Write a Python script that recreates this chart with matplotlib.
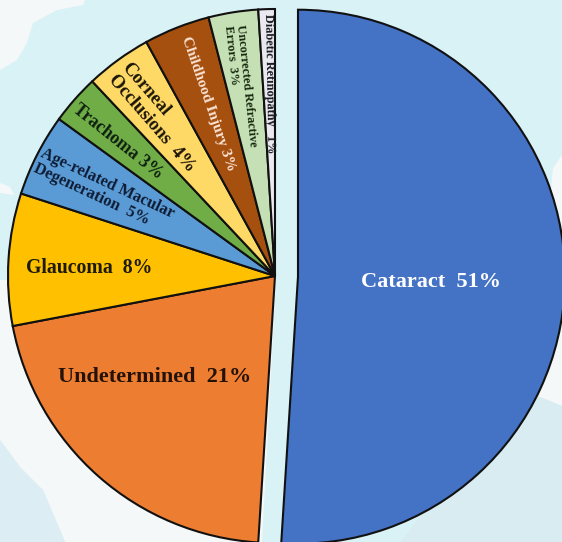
import matplotlib
matplotlib.use("Agg")
import matplotlib.pyplot as plt
from matplotlib.patches import Polygon

categories = ["Cataract", "Undetermined", "Glaucoma", "Age-related Macular Degeneration", "Trachoma",
              "Corneal Occlusions", "Childhood Injury", "Uncorrected Refractive Errors", "Diabetic Retinopathy"]
values = [51, 21, 8, 5, 3, 4, 4, 3, 1]
labels = ["Cataract  51%", "Undetermined  21%", "Glaucoma  8%", "Age-related Macular\nDegeneration  5%",
          "Trachoma 3%", "Corneal\nOcclusions  4%", "Childhood Injury 3%", "Uncorrected Refractive\nErrors  3%",
          "Diabetic Retinopathy   1%"]

colors = ["#4472C4", "#ED7D31", "#FFC000", "#5B9BD5", "#70AD47", "#FFD966", "#A5500F", "#C5E0B4", "#E9E9EF"]
label_xy = [(361, 282), (58, 377), (26, 268), (38, 160), (75, 107), (118, 71), (185, 37), (234, 25), (268, 14)]
label_rot = [0, 0, 0, -25, -38.5, -49, -71, -84, -89]
label_size = [16, 16, 14.2, 11.8, 13, 13.4, 11, 8.8, 8.8]
label_col = ["white", "#241208", "#1c1a08", "#0d1c33", "#0e1f10", "#1c1608", "#FBE3D4", "#16280f", "#1a1a22"]

fig = plt.figure(figsize=(5.62, 5.42), dpi=100, facecolor="#D9F2F6")
ax = fig.add_axes([0, 0, 1, 1])

land = [
    [(0, 0), (85, 0), (83, 5), (57, 10), (33, 23), (27, 43), (17, 60), (0, 70)],
    [(0, 183), (10, 187), (14, 195), (0, 193)],
    [(0, 280), (0, 440), (20, 467), (43, 490), (63, 537), (65, 542), (262, 542), (276, 280)],
    [(562, 155), (553, 168), (550, 200), (500, 300), (520, 395), (540, 397), (562, 406)],
]
for pts in land:
    ax.add_patch(Polygon(pts, closed=True, facecolor="#F5F8F9", edgecolor="none", zorder=0))
ax.add_patch(Polygon([(0, 440), (20, 467), (43, 490), (63, 537), (65, 542), (0, 542)], closed=True,
                     facecolor="#DCEEF3", edgecolor="none", zorder=0))
ax.add_patch(Polygon([(562, 406), (540, 397), (500, 420), (400, 542), (562, 542)], closed=True,
                     facecolor="#D8ECF1", edgecolor="none", zorder=0))

R = 267
explode = [23] + [0] * (len(values) - 1)
ax.pie(values, colors=colors, startangle=-90, counterclock=True, explode=explode,
       radius=R, center=(275, 276), frame=True,
       wedgeprops=dict(edgecolor="#111111", linewidth=1.5, joinstyle="miter"))
ax.set_xlim(0, 562)
ax.set_ylim(542, 0)
ax.axis("off")

for t, (x, y), r, s, c in zip(labels, label_xy, label_rot, label_size, label_col):
    ax.text(x, y, t, rotation=r, fontsize=s, color=c, fontweight="bold", ha="left", va="center",
            family="Liberation Serif", rotation_mode="anchor", linespacing=1.05, multialignment="left")
fig.savefig("out.png", dpi=100, facecolor=fig.get_facecolor())
